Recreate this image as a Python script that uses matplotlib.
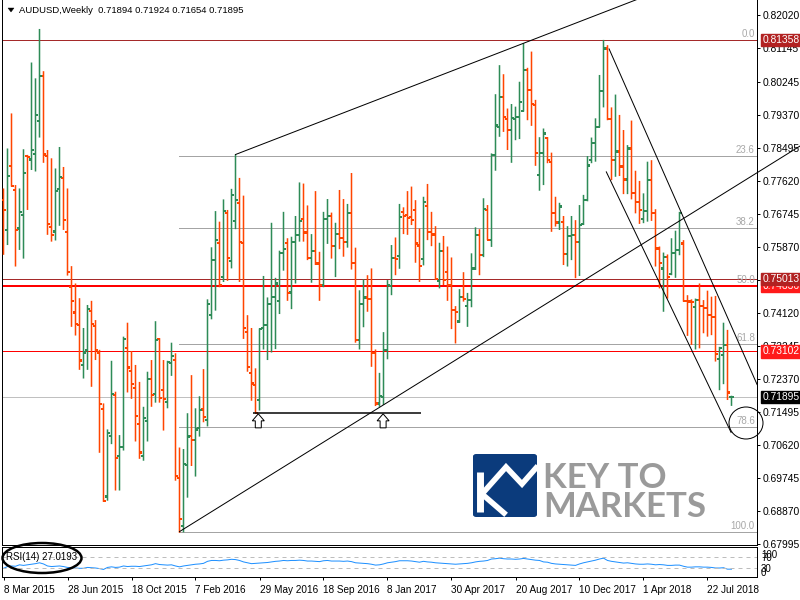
import numpy as np
import matplotlib
matplotlib.use('Agg')
import matplotlib.pyplot as plt
from matplotlib.patches import Ellipse, Polygon, FancyBboxPatch
from matplotlib.lines import Line2D

plt.rcParams['font.family'] = ['Liberation Sans', 'DejaVu Sans']

# AUDUSD weekly bars, 8 Mar 2015 .. 2 Sep 2018
opens = [
    0.7711, 0.7632, 0.7802, 0.7738, 0.7636, 0.7672, 0.7828, 0.7819, 0.7833, 0.7921,
    0.8040, 0.7828, 0.7639, 0.7628, 0.7741, 0.7770, 0.7626, 0.7480, 0.7413, 0.7379,
    0.7274, 0.7314, 0.7417, 0.7378, 0.7307, 0.7157, 0.6925, 0.7085, 0.7194, 0.7032,
    0.7057, 0.7318, 0.7258, 0.7212, 0.7117, 0.7033, 0.7125, 0.7236, 0.7196, 0.7342,
    0.7207, 0.7176, 0.7280, 0.7287, 0.6974, 0.6847, 0.7009, 0.7085, 0.7074, 0.7106,
    0.7156, 0.7127, 0.7406, 0.7552, 0.7598, 0.7508, 0.7676, 0.7550, 0.7656, 0.7703,
    0.7598, 0.7362, 0.7253, 0.7221, 0.7181, 0.7371, 0.7380, 0.7435, 0.7455, 0.7443,
    0.7570, 0.7598, 0.7466, 0.7601, 0.7619, 0.7660, 0.7625, 0.7557, 0.7576, 0.7543,
    0.7486, 0.7660, 0.7670, 0.7590, 0.7621, 0.7611, 0.7599, 0.7676, 0.7545, 0.7340,
    0.7436, 0.7453, 0.7448, 0.7306, 0.7172, 0.7189, 0.7314, 0.7483, 0.7557, 0.7563,
    0.7680, 0.7671, 0.7667, 0.7685, 0.7591, 0.7554, 0.7696, 0.7626, 0.7620, 0.7497,
    0.7576, 0.7520, 0.7486, 0.7420, 0.7389, 0.7455, 0.7430, 0.7446, 0.7530, 0.7619,
    0.7565, 0.7685, 0.7605, 0.7831, 0.7906, 0.7985, 0.7926, 0.7897, 0.7926, 0.7932,
    0.7948, 0.8056, 0.8003, 0.7963, 0.7778, 0.7835, 0.7875, 0.7813, 0.7678, 0.7652,
    0.7654, 0.7568, 0.7616, 0.7619, 0.7601, 0.7648, 0.7711, 0.7817, 0.7863, 0.7906,
    0.8000, 0.8113, 0.7926, 0.7817, 0.7840, 0.7800, 0.7766, 0.7848, 0.7729, 0.7707,
    0.7662, 0.7683, 0.7764, 0.7676, 0.7583, 0.7530, 0.7560, 0.7515, 0.7570, 0.7579,
    0.7596, 0.7444, 0.7442, 0.7428, 0.7446, 0.7430, 0.7424, 0.7406, 0.7402, 0.7290,
    0.7300, 0.7327, 0.71894,
]
highs = [
    0.7742, 0.7848, 0.7941, 0.7751, 0.7742, 0.7846, 0.7831, 0.8076, 0.8034, 0.8165,
    0.8053, 0.7844, 0.7822, 0.7795, 0.7852, 0.7799, 0.7742, 0.7536, 0.7490, 0.7451,
    0.7372, 0.7433, 0.7444, 0.7393, 0.7314, 0.7172, 0.7103, 0.7285, 0.7203, 0.7088,
    0.7349, 0.7386, 0.7311, 0.7274, 0.7229, 0.7163, 0.7256, 0.7287, 0.7390, 0.7345,
    0.7287, 0.7285, 0.7333, 0.7305, 0.7055, 0.7051, 0.7146, 0.7247, 0.7159, 0.7191,
    0.7263, 0.7448, 0.7586, 0.7682, 0.7654, 0.7713, 0.7685, 0.7741, 0.7832, 0.7770,
    0.7723, 0.7406, 0.7372, 0.7265, 0.7371, 0.7510, 0.7453, 0.7651, 0.7505, 0.7577,
    0.7680, 0.7610, 0.7614, 0.7669, 0.7758, 0.7755, 0.7697, 0.7621, 0.7735, 0.7574,
    0.7680, 0.7714, 0.7678, 0.7651, 0.7738, 0.7714, 0.7701, 0.7783, 0.7585, 0.7472,
    0.7501, 0.7512, 0.7530, 0.7315, 0.7253, 0.7361, 0.7499, 0.7592, 0.7612, 0.7701,
    0.7692, 0.7735, 0.7747, 0.7711, 0.7636, 0.7720, 0.7754, 0.7680, 0.7642, 0.7598,
    0.7616, 0.7588, 0.7559, 0.7430, 0.7475, 0.7520, 0.7465, 0.7570, 0.7639, 0.7634,
    0.7716, 0.7698, 0.7835, 0.7992, 0.8069, 0.8045, 0.7954, 0.7966, 0.7959, 0.8025,
    0.8127, 0.8062, 0.8105, 0.7977, 0.7878, 0.7901, 0.7878, 0.7837, 0.7720, 0.7704,
    0.7669, 0.7642, 0.7669, 0.7658, 0.7698, 0.7725, 0.7828, 0.7877, 0.7928, 0.8043,
    0.8136, 0.8122, 0.7957, 0.7991, 0.7937, 0.7897, 0.7857, 0.7922, 0.7789, 0.7762,
    0.7729, 0.7813, 0.7817, 0.7687, 0.7588, 0.7572, 0.7567, 0.7610, 0.7630, 0.7680,
    0.7605, 0.7459, 0.7448, 0.7450, 0.7490, 0.7446, 0.7471, 0.7455, 0.7457, 0.7322,
    0.7386, 0.7367, 0.71924,
]
lows = [
    0.7566, 0.7592, 0.7747, 0.7535, 0.7579, 0.7556, 0.7685, 0.7791, 0.7787, 0.7877,
    0.7810, 0.7619, 0.7601, 0.7604, 0.7643, 0.7632, 0.7511, 0.7375, 0.7352, 0.7261,
    0.7238, 0.7261, 0.7216, 0.7287, 0.7041, 0.6911, 0.6914, 0.7064, 0.6941, 0.6941,
    0.7047, 0.7201, 0.7184, 0.7071, 0.7025, 0.7020, 0.7071, 0.7163, 0.7174, 0.7174,
    0.7100, 0.7159, 0.7245, 0.6967, 0.6829, 0.6830, 0.6922, 0.7006, 0.6978, 0.7084,
    0.7122, 0.7111, 0.7395, 0.7418, 0.7480, 0.7494, 0.7497, 0.7530, 0.7634, 0.7494,
    0.7343, 0.7256, 0.7179, 0.7146, 0.7153, 0.7315, 0.7287, 0.7307, 0.7316, 0.7409,
    0.7524, 0.7444, 0.7422, 0.7490, 0.7601, 0.7601, 0.7552, 0.7492, 0.7539, 0.7444,
    0.7480, 0.7595, 0.7556, 0.7507, 0.7581, 0.7561, 0.7585, 0.7527, 0.7333, 0.7315,
    0.7374, 0.7415, 0.7269, 0.7165, 0.7163, 0.7168, 0.7289, 0.7459, 0.7512, 0.7529,
    0.7621, 0.7619, 0.7645, 0.7545, 0.7494, 0.7538, 0.7605, 0.7589, 0.7499, 0.7477,
    0.7486, 0.7444, 0.7369, 0.7331, 0.7386, 0.7442, 0.7375, 0.7427, 0.7526, 0.7512,
    0.7560, 0.7605, 0.7587, 0.7789, 0.7879, 0.7892, 0.7844, 0.7810, 0.7870, 0.7873,
    0.7946, 0.7923, 0.7908, 0.7802, 0.7736, 0.7751, 0.7809, 0.7627, 0.7641, 0.7632,
    0.7539, 0.7535, 0.7552, 0.7504, 0.7510, 0.7645, 0.7708, 0.7809, 0.7813, 0.7904,
    0.7957, 0.7923, 0.7764, 0.7773, 0.7775, 0.7727, 0.7727, 0.7713, 0.7676, 0.7648,
    0.7650, 0.7654, 0.7656, 0.7535, 0.7477, 0.7415, 0.7450, 0.7512, 0.7505, 0.7565,
    0.7442, 0.7351, 0.7327, 0.7315, 0.7318, 0.7358, 0.7349, 0.7353, 0.7283, 0.7207,
    0.7223, 0.7181, 0.71654,
]
closes = [
    0.7685, 0.7775, 0.7749, 0.7632, 0.7680, 0.7782, 0.7826, 0.7844, 0.7937, 0.8040,
    0.7832, 0.7648, 0.7619, 0.7735, 0.7772, 0.7658, 0.7520, 0.7444, 0.7382, 0.7286,
    0.7307, 0.7423, 0.7382, 0.7314, 0.7170, 0.6913, 0.7093, 0.7197, 0.7028, 0.7057,
    0.7343, 0.7267, 0.7223, 0.7139, 0.7042, 0.7134, 0.7236, 0.7194, 0.7340, 0.7187,
    0.7184, 0.7281, 0.7298, 0.6980, 0.6865, 0.7011, 0.7084, 0.7074, 0.7103, 0.7155,
    0.7135, 0.7436, 0.7552, 0.7605, 0.7486, 0.7683, 0.7557, 0.7725, 0.7711, 0.7600,
    0.7371, 0.7269, 0.7225, 0.7147, 0.7369, 0.7380, 0.7435, 0.7455, 0.7490, 0.7570,
    0.7582, 0.7464, 0.7601, 0.7619, 0.7655, 0.7625, 0.7557, 0.7576, 0.7543, 0.7486,
    0.7660, 0.7670, 0.7590, 0.7621, 0.7611, 0.7599, 0.7676, 0.7545, 0.7340, 0.7436,
    0.7453, 0.7448, 0.7305, 0.7172, 0.7192, 0.7314, 0.7486, 0.7557, 0.7554, 0.7667,
    0.7670, 0.7663, 0.7658, 0.7596, 0.7536, 0.7707, 0.7626, 0.7620, 0.7501, 0.7576,
    0.7499, 0.7486, 0.7420, 0.7415, 0.7455, 0.7448, 0.7446, 0.7530, 0.7619, 0.7565,
    0.7688, 0.7606, 0.7831, 0.7909, 0.7985, 0.7931, 0.7897, 0.7928, 0.7932, 0.7972,
    0.8056, 0.8003, 0.7966, 0.7835, 0.7835, 0.7888, 0.7817, 0.7678, 0.7652, 0.7694,
    0.7568, 0.7616, 0.7619, 0.7601, 0.7645, 0.7711, 0.7803, 0.7863, 0.7906, 0.8000,
    0.8113, 0.7926, 0.7817, 0.7840, 0.7800, 0.7766, 0.7848, 0.7729, 0.7707, 0.7685,
    0.7683, 0.7764, 0.7676, 0.7583, 0.7545, 0.7560, 0.7508, 0.7570, 0.7579, 0.7678,
    0.7444, 0.7442, 0.7440, 0.7446, 0.7430, 0.7424, 0.7406, 0.7402, 0.7303, 0.7318,
    0.7327, 0.7201, 0.71895,
]
rsi = [
    30, 36, 38, 37, 42, 40, 42, 44, 46, 49, 45, 38, 36, 37, 38, 36, 33, 32, 31, 30,
    30, 33, 32, 31, 29, 26, 33, 35, 33, 34, 38, 36, 37, 37, 36, 38, 40, 42, 46, 43,
    42, 41, 42, 38, 35, 38, 40, 42, 44, 45, 47, 54, 57, 57, 56, 58, 59, 61, 60, 57,
    52, 49, 46, 47, 48, 49, 50, 52, 54, 55, 57, 56, 57, 57, 58, 57, 55, 55, 54, 53,
    56, 57, 55, 55, 55, 54, 55, 53, 49, 48, 47, 46, 44, 41, 42, 45, 49, 51, 53, 56,
    56, 56, 55, 53, 51, 54, 52, 51, 49, 48, 47, 46, 45, 44, 45, 46, 47, 49, 52, 54,
    55, 57, 62, 63, 65, 63, 62, 62, 61, 62, 64, 62, 60, 58, 57, 52, 51, 47, 45, 44,
    43, 42, 41, 40, 45, 49, 52, 55, 58, 62, 65, 57, 54, 52, 50, 48, 49, 47, 45, 44,
    44, 45, 44, 42, 43, 42, 40, 40, 41, 41, 37, 34, 34, 35, 35, 34, 34, 33, 31, 31,
    32, 27, 27.0193,
]

date_labels = ['8 Mar 2015', '28 Jun 2015', '18 Oct 2015', '7 Feb 2016', '29 May 2016',
               '18 Sep 2016', '8 Jan 2017', '30 Apr 2017', '20 Aug 2017', '10 Dec 2017',
               '1 Apr 2018', '22 Jul 2018']
date_bars = [0, 16, 32, 48, 64, 80, 96, 112, 128, 144, 160, 176]

price_ticks = [0.82020, 0.81145, 0.80245, 0.79370, 0.78495, 0.77620, 0.76745, 0.75870,
               0.74995, 0.74120, 0.73245, 0.72370, 0.71495, 0.70620, 0.69745, 0.68870, 0.67995]

# horizontal levels: (price, line colour, line width px, box colour)
levels = [(0.81358, '#A52A2A', 1, '#B22222'),
          (0.74836, '#FF0000', 2, '#FF1A1A'),
          (0.75013, '#A52A2A', 1, '#B22222'),
          (0.73102, '#FF0000', 1, '#FF1A1A')]
bid = 0.71895

fib_hi, fib_lo, fib_start = 0.81358, 0.6831, 44
fib_ratios = [0.0, 23.6, 38.2, 50.0, 61.8, 78.6, 100.0]

# trend lines (bar index, price)
line_up = [(58, 0.7832), (130, 0.8127)]
line_low = [(44, 0.6832), (139.2, 0.74595)]
line_dn1 = [(151.4, 0.8112), (188.4, 0.7222)]
line_dn2 = [(150.7, 0.7786), (181.9, 0.7095)]
support = (62.4, 104.4, 0.7147)
arrow_bars = [63.7, 94.9]

W, H = 800, 600
PX = 72 / 100


def fx(p):
    return p / W


def fy(p):
    return 1 - p / H


fig = plt.figure(figsize=(8, 6), dpi=100)
fig.patch.set_facecolor('white')

ax = fig.add_axes([fx(2), fy(545), 755 / W, 545 / H])
# 4 px per bar
xlim = (-0.375, -0.375 + 755 / 4)
ax.set_xlim(*xlim)
ax.set_ylim(0.67965, 0.82418)

idx = np.arange(len(opens))
o, h, l, c = map(np.array, (opens, highs, lows, closes))
cols = np.where(c >= o, '#2E8B57', '#FF4500')

# fibonacci grid first, then the coloured levels over it
for r in fib_ratios:
    p = fib_hi - (fib_hi - fib_lo) * r / 100
    ax.hlines(p, fib_start, xlim[1], color='#A4A4A4', lw=PX, zorder=0.8, antialiased=False)
    ax.text(0.9972, p + 0.0003, f'{r:.1f}', transform=ax.get_yaxis_transform(),
            ha='right', va='bottom', fontsize=7, color='#A8A8A8', zorder=2)
ax.axhline(bid, color='#C0C0C0', lw=PX, zorder=0.9, antialiased=False)
for p, lc, lw, bc in levels:
    ax.axhline(p, color=lc, lw=lw * PX, zorder=1, antialiased=False)

bars = ax.vlines(idx, l, h, colors=cols, lw=1.1, zorder=3, antialiased=True, capstyle='butt')
t_open = ax.hlines(o, idx - 0.45, idx - 0.1, colors=cols, lw=1.2 * PX, zorder=3, antialiased=False)
t_close = ax.hlines(c, idx + 0.1, idx + 0.45, colors=cols, lw=1.2 * PX, zorder=3, antialiased=False)
for coll in (bars, t_open, t_close):
    coll.set_snap(False)


def ray(pts, x_end):
    (x0, y0), (x1, y1) = pts
    k = (y1 - y0) / (x1 - x0)
    return [x0, x_end], [y0, y0 + k * (x_end - x0)]


xs, ys = ray(line_up, 175)
ax.plot(xs, ys, color='black', lw=PX, zorder=4)
xs, ys = ray(line_low, (800 - 3.5) / 4)
ax.plot(xs, ys, color='black', lw=PX, zorder=4, clip_on=False)
ax.plot(*zip(*line_dn1), color='black', lw=PX, zorder=4)
ax.plot(*zip(*line_dn2), color='black', lw=PX, zorder=4)
ax.hlines(support[2], support[0], support[1], color='black', lw=1.5 * PX, zorder=4)

# hollow up arrows under the double bottom
shape = [(0, 0), (6, 7), (3, 7), (3, 14), (-3, 14), (-3, 7), (-6, 7)]
inv = ax.transData.inverted()
for b in arrow_bars:
    tx, ty = ax.transData.transform((b, support[2]))
    pts = inv.transform([(tx + dx, ty - dy - 1) for dx, dy in shape])
    ax.add_patch(Polygon(pts, closed=True, fc='white', ec='black', lw=PX, zorder=5))

# price axis
ax.yaxis.tick_right()
ax.set_yticks(price_ticks)
ax.set_yticklabels([f'{p:.5f}' for p in price_ticks])
ax.tick_params(axis='y', direction='out', length=2.5, width=PX, pad=1.5, labelsize=7.4)
ax.set_xticks([])
for s in ('left', 'right', 'bottom'):
    ax.spines[s].set_linewidth(PX)
ax.spines['top'].set_visible(False)

for p, lc, lw, bc in levels + [(bid, None, None, '#000000')]:
    ax.text(1.0075, p, f'{p:.5f}', transform=ax.get_yaxis_transform(), ha='left', va='center',
            fontsize=7.4, color='white', clip_on=False, zorder=6,
            bbox=dict(boxstyle='square,pad=0.12', fc=bc, ec=bc))

# RSI window
ax2 = fig.add_axes([fx(2), fy(577), 755 / W, 30 / H])
ax2.set_xlim(*xlim)
ax2.set_ylim(0, 103.4)
ax2.plot(idx, rsi, color='#1E90FF', lw=PX)
for lv in (70, 30):
    ax2.axhline(lv, color='#BDBDBD', lw=PX, ls=(0, (4, 4)))
ax2.set_yticks([])
ax2.set_xticks(date_bars)
ax2.set_xticklabels(date_labels, ha='left')
ax2.tick_params(axis='x', direction='out', length=2, width=PX, pad=3.5, labelsize=7.2)
for s in ax2.spines.values():
    s.set_linewidth(PX)

fig.text(fx(6), fy(556.5), 'RSI(14) 27.0193', fontsize=7, va='center')
for t, y in (('100', 554.5), ('70', 558), ('30', 569), ('0', 572.5)):
    fig.text(fx(761), fy(y), t, fontsize=7, va='center')

# header
fig.add_artist(Polygon([(fx(8), fy(8)), (fx(14), fy(8)), (fx(11), fy(12))],
                       closed=True, fc='black', ec='black', lw=0.3, transform=fig.transFigure))
fig.text(fx(19), fy(10.5), 'AUDUSD,Weekly  0.71894 0.71924 0.71654 0.71895',
         fontsize=6.8, va='center')

# annotations
fig.add_artist(Ellipse((fx(746), fy(423)), 34 / W, 32 / H, transform=fig.transFigure,
                       fill=False, ec='black', lw=PX, zorder=10))
fig.add_artist(Ellipse((fx(42), fy(558)), 79 / W, 30 / H, transform=fig.transFigure,
                       fill=False, ec='black', lw=1.8, zorder=10))

# logo
fig.add_artist(FancyBboxPatch((fx(473), fy(517)), 64 / W, 63 / H,
                              boxstyle='round,pad=0,rounding_size=0.004',
                              transform=fig.transFigure, fc='#0B3B7C', ec='none', zorder=8))
fig.add_artist(Line2D([fx(480), fx(480)], [fy(472), fy(512)], color='white', lw=5,
                      solid_capstyle='butt', transform=fig.transFigure, zorder=9))
fig.add_artist(Line2D([fx(482), fx(506), fx(522), fx(536)],
                      [fy(494), fy(467), fy(484), fy(468)], color='white', lw=4,
                      solid_joinstyle='miter', transform=fig.transFigure, zorder=9))
fig.add_artist(Line2D([fx(482), fx(504)], [fy(494), fy(513)], color='white', lw=4,
                      transform=fig.transFigure, zorder=9))
fig.text(fx(543), fy(488), 'KEY TO', fontsize=25, color='#9A9A9A', family=['Lato', 'DejaVu Sans'],
         weight='bold', va='baseline', zorder=9)
fig.text(fx(543), fy(517), 'MARKETS', fontsize=25, color='#9A9A9A', family=['Lato', 'DejaVu Sans'],
         weight='bold', va='baseline', zorder=9)

fig.savefig('out.png', dpi=100, facecolor='white')
